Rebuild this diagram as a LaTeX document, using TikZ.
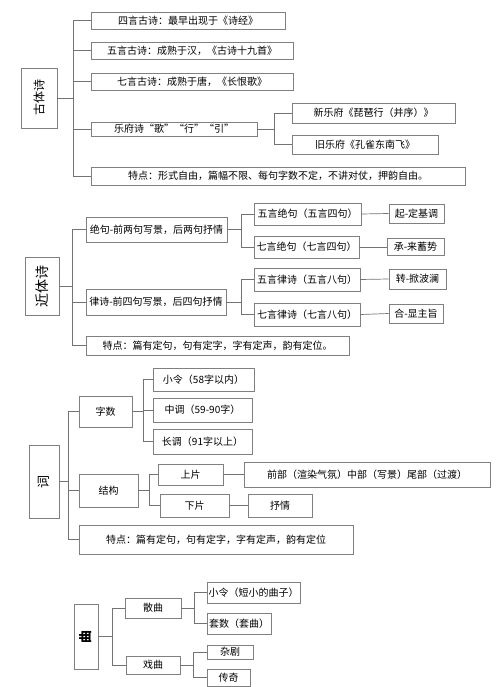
\documentclass[tikz,border=0pt]{standalone}
\usepackage{fontspec}
\setmainfont{Noto Sans CJK SC}
\usepackage{tikz}
\usetikzlibrary{positioning}

\begin{document}
\begin{tikzpicture}[x=1pt,y=-1pt,
  box/.style={draw=black!50,line width=0.7pt,inner sep=0pt,font=\fontsize{10}{12}\selectfont},
  rootbox/.style={draw=black!50,line width=0.7pt,inner sep=0pt},
  link/.style={draw=black!55,line width=0.7pt}]
\useasboundingbox (0,0) rectangle (500,687);
\node[rootbox,minimum width=36pt,minimum height=60pt] (gti) at (39,98) {\rotatebox{90}{\fontsize{12}{14}\selectfont 古体诗}};
\node[box,minimum width=194pt,minimum height=17pt] (siyan) at (188,20.5) {四言古诗：最早出现于《诗经》};
\node[box,minimum width=202pt,minimum height=17pt] (wuyan) at (192,50.5) {五言古诗：成熟于汉，《古诗十九首》};
\node[box,minimum width=202pt,minimum height=17pt] (qiyan) at (192,81.5) {七言古诗：成熟于唐，《长恨歌》};
\node[box,minimum width=166pt,minimum height=14pt] (yuefu) at (174,129) {乐府诗“歌”“行”“引”};
\node[box,minimum width=163pt,minimum height=20pt] (xinyf) at (373.5,113) {新乐府《琵琶行（并序）》};
\node[box,minimum width=146pt,minimum height=19pt] (jiuyf) at (365,144.5) {旧乐府《孔雀东南飞》};
\node[box,minimum width=374pt,minimum height=18pt] (gtd) at (278,176) {特点：形式自由，篇幅不限、每句字数不定，不讲对仗，押韵自由。};
\draw[link] (gti.east) -- ++(16,0) |- (siyan.west);
\draw[link] (gti.east) -- ++(16,0) |- (wuyan.west);
\draw[link] (gti.east) -- ++(16,0) |- (qiyan.west);
\draw[link] (gti.east) -- ++(16,0) |- (yuefu.west);
\draw[link] (gti.east) -- ++(16,0) |- (gtd.west);
\draw[link] (yuefu.east) -- ++(17,0) |- (xinyf.west);
\draw[link] (yuefu.east) -- ++(17,0) |- (jiuyf.west);

\node[rootbox,minimum width=34pt,minimum height=58pt] (jti) at (42,286) {\rotatebox{90}{\fontsize{14}{16}\selectfont 近体诗}};
\node[box,minimum width=141pt,minimum height=25pt] (jueju) at (156.5,229.5) {绝句-前两句写景，后两句抒情};
\node[box,minimum width=107pt,minimum height=22pt] (wujue) at (307.5,214) {五言绝句（五言四句）};
\node[box,minimum width=105pt,minimum height=22pt] (qijue) at (306.5,247) {七言绝句（七言四句）};
\node[box,minimum width=55pt,minimum height=19pt] (qi) at (416.5,213.5) {起-定基调};
\node[box,minimum width=57pt,minimum height=17pt] (cheng) at (415.5,246.5) {承-来蓄势};
\node[box,minimum width=140pt,minimum height=26pt] (lvshi) at (156,302) {律诗-前四句写景，后四句抒情};
\node[box,minimum width=106pt,minimum height=23pt] (wulv) at (307,279.5) {五言律诗（五言八句）};
\node[box,minimum width=106pt,minimum height=23pt] (qilv) at (307,314.5) {七言律诗（七言八句）};
\node[box,minimum width=57pt,minimum height=20pt] (zhuan) at (417.5,279) {转-掀波澜};
\node[box,minimum width=54pt,minimum height=19pt] (he) at (416,313.5) {合-显主旨};
\node[box,minimum width=263pt,minimum height=19pt] (jtd) at (217.5,345.5) {特点：篇有定句，句有定字，字有定声，韵有定位。};
\draw[link] (jti.east) -- ++(13,0) |- (jueju.west);
\draw[link] (jti.east) -- ++(13,0) |- (lvshi.west);
\draw[link] (jti.east) -- ++(13,0) |- (jtd.west);
\draw[link] (jueju.east) -- ++(14,0) |- (wujue.west);
\draw[link] (jueju.east) -- ++(14,0) |- (qijue.west);
\draw[link] (lvshi.east) -- ++(15,0) |- (wulv.west);
\draw[link] (lvshi.east) -- ++(15,0) |- (qilv.west);
\draw[link] (wujue.east) -- (qi.west);
\draw[link] (qijue.east) -- (cheng.west |- qijue.east);
\draw[link] (wulv.east) -- (zhuan.west);
\draw[link] (qilv.east) -- (he.west);

\node[rootbox,minimum width=30pt,minimum height=73pt] (ci) at (44,481.5) {\rotatebox{90}{\fontsize{13}{15}\selectfont 词}};
\node[box,minimum width=53pt,minimum height=31pt] (zishu) at (105.5,411.5) {字数};
\node[box,minimum width=101pt,minimum height=23pt] (xiaoling) at (203.5,379.5) {小令（58字以内）};
\node[box,minimum width=99pt,minimum height=24pt] (zhongdiao) at (202.5,410) {中调（59-90字）};
\node[box,minimum width=99pt,minimum height=25pt] (changdiao) at (202.5,441.5) {长调（91字以上）};
\node[box,minimum width=59pt,minimum height=33pt] (jiegou) at (108.5,490.5) {结构};
\node[box,minimum width=65pt,minimum height=21pt] (shangpian) at (190.5,474.5) {上片};
\node[box,minimum width=246pt,minimum height=25pt] (qianbu) at (367,474.5) {前部（渲染气氛）中部（写景）尾部（过渡）};
\node[box,minimum width=69pt,minimum height=23pt] (xiapian) at (194.5,505.5) {下片};
\node[box,minimum width=64pt,minimum height=23pt] (shuqing) at (280,505.5) {抒情};
\node[box,minimum width=274pt,minimum height=29pt] (cid) at (216,539.5) {特点：篇有定句，句有定字，字有定声，韵有定位};
\draw[link] (ci.east) -- ++(9,0) |- (zishu.west);
\draw[link] (ci.east) -- ++(9,0) |- (jiegou.west);
\draw[link] (ci.east) -- ++(9,0) |- (cid.west);
\draw[link] (zishu.east) -- ++(11,0) |- (xiaoling.west);
\draw[link] (zishu.east) -- ++(11,0) |- (zhongdiao.west);
\draw[link] (zishu.east) -- ++(11,0) |- (changdiao.west);
\draw[link] (jiegou.east) -- ++(11,0) |- (shangpian.west);
\draw[link] (jiegou.east) -- ++(11,0) |- (xiapian.west);
\draw[link] (shangpian.east) -- (qianbu.west);
\draw[link] (xiapian.east) -- (shuqing.west);

\node[rootbox,minimum width=24pt,minimum height=65pt] (qu) at (86,636.5) {\rotatebox{90}{\fontsize{13}{15}\selectfont\bfseries 曲}};
\node[box,minimum width=56pt,minimum height=20pt] (sanqu) at (153,608) {散曲};
\node[box,minimum width=93pt,minimum height=21pt] (xiaoling2) at (253.5,592.5) {小令（短小的曲子）};
\node[box,minimum width=64pt,minimum height=21pt] (taoshu) at (239,623.5) {套数（套曲）};
\node[box,minimum width=54pt,minimum height=18pt] (xiqu) at (153,665) {戏曲};
\node[box,minimum width=46pt,minimum height=14pt] (zaju) at (230,652) {杂剧};
\node[box,minimum width=43pt,minimum height=17pt] (chuanqi) at (228.5,677.5) {传奇};
\draw[link] (qu.east) -- ++(14,0) |- (sanqu.west);
\draw[link] (qu.east) -- ++(14,0) |- (xiqu.west);
\draw[link] (sanqu.east) -- ++(13,0) |- (xiaoling2.west);
\draw[link] (sanqu.east) -- ++(13,0) |- (taoshu.west);
\draw[link] (xiqu.east) -- ++(13,0) |- (zaju.west);
\draw[link] (xiqu.east) -- ++(13,0) |- (chuanqi.west);
\end{tikzpicture}
\end{document}
